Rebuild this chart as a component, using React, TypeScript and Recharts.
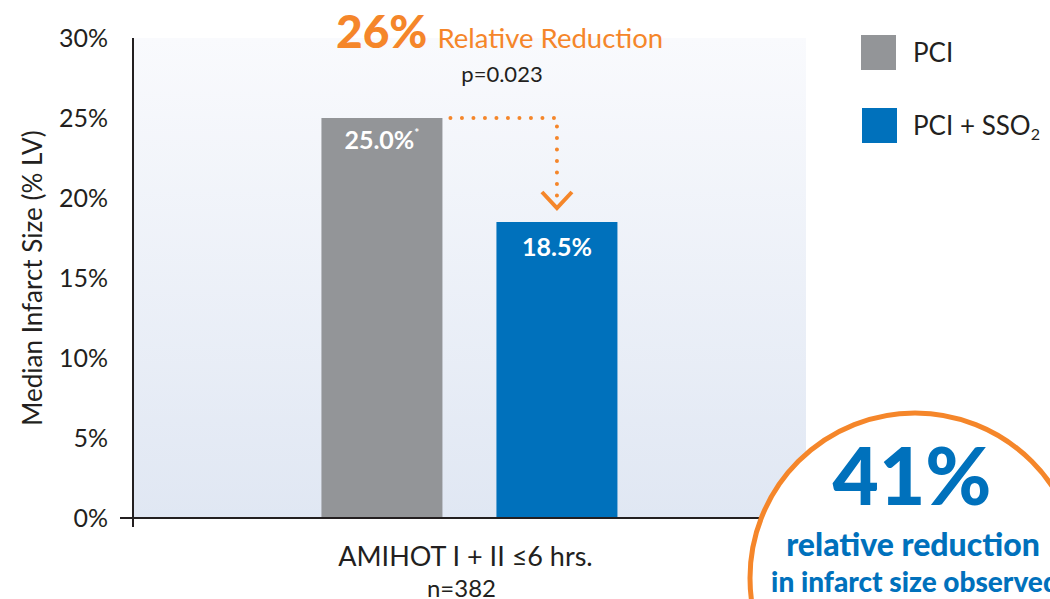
import React from 'react';
import { BarChart, Bar, XAxis, YAxis, CartesianGrid, LabelList } from 'recharts';

const categories = ['AMIHOT I + II ≤6 hrs.'];
const categorySubLabels = ['n=382'];
const pciValues = [25.0];
const sso2Values = [18.5];
const yTicks = [0, 5, 10, 15, 20, 25, 30];
const seriesNames = ['PCI', 'PCI + SSO'];

const data = categories.map((c, i) => ({ name: c, sub: categorySubLabels[i], pci: pciValues[i], sso2: sso2Values[i] }));

const FONT = 'Lato, "Noto Sans", sans-serif';
const DARK = '#231f20';
const GRAY = '#939598';
const BLUE = '#0071bc';
const ORANGE = '#f5862a';
const BAR_GAP = 54;

const YTick = (props: any) => {
  const { x, y, payload } = props;
  return (
    <g>
      <text x={x - 25} y={y} dy={9} textAnchor="end" fontSize={25} fill={DARK} fontFamily={FONT}>
        {`${payload.value}%`}
      </text>
      {payload.value === 0 && (
        <g>
          <line x1={x - 13} y1={y} x2={x} y2={y} stroke={DARK} strokeWidth={2} />
          <line x1={x} y1={y} x2={x} y2={y + 9} stroke={DARK} strokeWidth={2} />
        </g>
      )}
    </g>
  );
};

const XTick = (props: any) => {
  const { x, y, payload, index } = props;
  return (
    <g>
      <text x={x - 4} y={y + 48} textAnchor="middle" fontSize={27} fill={DARK} fontFamily={FONT}>
        {payload.value}
      </text>
      <text x={x - 8} y={y + 79} textAnchor="middle" fontSize={24} fill={DARK} fontFamily={FONT}>
        {data[index ?? 0].sub}
      </text>
    </g>
  );
};

const PciLabel = (props: any) => {
  const { x, y, width, value } = props;
  return (
    <text x={x + width / 2} y={y + 31} textAnchor="middle" fontSize={25} fontWeight={700} fill="#fff" fontFamily={FONT}>
      {`${Number(value).toFixed(1)}%`}
      <tspan fontSize={12} dy={-12}>*</tspan>
    </text>
  );
};

const SsoLabel = (props: any) => {
  const { x, y, width, height, value, index } = props;
  const cx = x + width / 2;
  const yGray = y + height - height * (pciValues[index ?? 0] / value);
  const startX = x - BAR_GAP + 8;
  const tipY = y - 14;
  return (
    <g>
      <path
        d={`M${startX},${yGray} L${cx},${yGray} L${cx},${tipY - 6}`}
        fill="none"
        stroke={ORANGE}
        strokeWidth={4}
        strokeDasharray="0 11.5"
        strokeLinecap="round"
      />
      <path d={`M${cx - 15},${tipY - 16} L${cx},${tipY} L${cx + 15},${tipY - 16}`} fill="none" stroke={ORANGE} strokeWidth={4} />
      <text x={cx} y={y + 34} textAnchor="middle" fontSize={25} fontWeight={700} fill="#fff" fontFamily={FONT}>
        {`${Number(value).toFixed(1)}%`}
      </text>
    </g>
  );
};

export default function App() {
  return (
    <div style={{ position: 'absolute', left: 0, top: 0, width: 1050, height: 599, background: '#fff', overflow: 'hidden' }}>
      <BarChart
        width={1050}
        height={599}
        data={data}
        margin={{ top: 38, right: 244, bottom: 0, left: 0 }}
        barCategoryGap="28%"
        barGap={BAR_GAP}
      >
        <defs>
          <linearGradient id="panelGrad" x1="0" y1="0" x2="0" y2="1">
            <stop offset="0%" stopColor="#f9fafd" />
            <stop offset="100%" stopColor="#e0e7f3" />
          </linearGradient>
        </defs>
        <CartesianGrid horizontal={false} vertical={false} fill="url(#panelGrad)" />
        <XAxis
          dataKey="name"
          height={81}
          axisLine={{ stroke: DARK, strokeWidth: 2 }}
          tickLine={false}
          tickSize={0}
          tickMargin={0}
          tick={<XTick />}
          interval={0}
        />
        <YAxis
          type="number"
          domain={[0, 30]}
          ticks={yTicks}
          width={133}
          axisLine={{ stroke: DARK, strokeWidth: 2 }}
          tickLine={false}
          tickSize={0}
          tickMargin={0}
          tick={<YTick />}
          label={{
            value: 'Median Infarct Size (% LV)',
            angle: -90,
            position: 'insideLeft',
            offset: 33,
            style: { textAnchor: 'middle', fontSize: 26, fill: DARK, fontFamily: FONT },
          }}
        />
        <Bar dataKey="pci" name={seriesNames[0]} fill={GRAY} isAnimationActive={false}>
          <LabelList dataKey="pci" content={<PciLabel />} />
        </Bar>
        <Bar dataKey="sso2" name={seriesNames[1]} fill={BLUE} isAnimationActive={false}>
          <LabelList dataKey="sso2" content={<SsoLabel />} />
        </Bar>
      </BarChart>
      <svg width={1050} height={599} style={{ position: 'absolute', left: 0, top: 0, pointerEvents: 'none' }}>
        <text x={336} y={48} fontFamily={FONT} fill={ORANGE}>
          <tspan fontSize={46} fontWeight={900}>26%</tspan>
          <tspan fontSize={27.5} dx={10}>Relative Reduction</tspan>
        </text>
        <text x={502} y={82} textAnchor="middle" fontSize={22} fill={DARK} fontFamily={FONT}>p=0.023</text>
        <rect x={861} y={35} width={35} height={35} fill={GRAY} />
        <text x={913} y={62} fontSize={26} fill={DARK} fontFamily={FONT}>{seriesNames[0]}</text>
        <rect x={862} y={108} width={35} height={35} fill={BLUE} />
        <text x={913} y={135} fontSize={26} fill={DARK} fontFamily={FONT}>
          {seriesNames[1]}
          <tspan fontSize={16} dy={5}>2</tspan>
        </text>
        <circle cx={915} cy={578} r={165} fill="#fff" stroke={ORANGE} strokeWidth={5} />
        <text x={912} y={505} textAnchor="middle" fontSize={80} fontWeight={900} fill={BLUE} fontFamily={FONT}>41%</text>
        <text x={913} y={556} textAnchor="middle" fontSize={32} fontWeight={900} fill={BLUE} fontFamily={FONT}>relative reduction</text>
        <text x={915} y={592} textAnchor="middle" fontSize={28} fontWeight={900} fill={BLUE} fontFamily={FONT}>in infarct size observed</text>
      </svg>
    </div>
  );
}
